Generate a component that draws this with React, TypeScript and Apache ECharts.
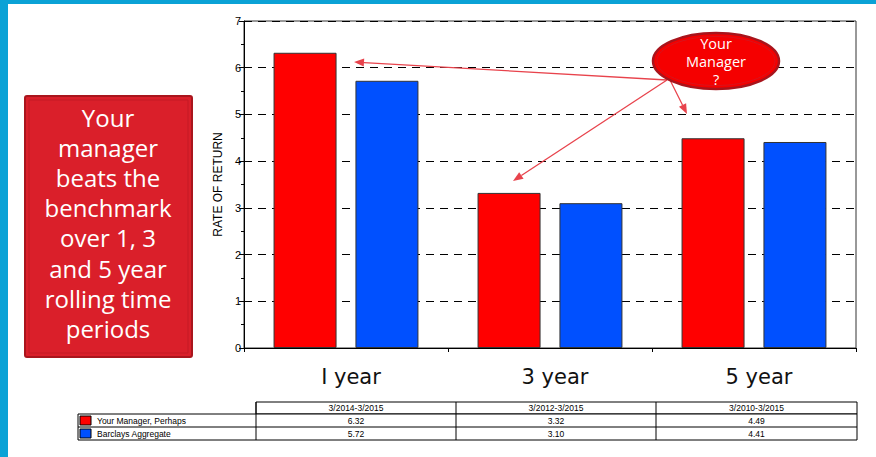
import React, { useEffect, useRef } from "react";
import * as echarts from "echarts";

const categories = ["I year", "3 year", "5 year"];
const periods = ["3/2014-3/2015", "3/2012-3/2015", "3/2010-3/2015"];
const seriesNames = ["Your Manager, Perhaps", "Barclays Aggregate"];
const managerValues = [6.32, 3.32, 4.49];
const benchmarkValues = [5.72, 3.1, 4.41];
const seriesColors = ["#FF0000", "#0050FF"];
const boxLines = [
  "Your",
  "manager",
  "beats the",
  "benchmark",
  "over 1, 3",
  "and 5 year",
  "rolling time",
  "periods",
];
const calloutLines = ["Your", "Manager", "?"];

function arrow(x1: number, y1: number, x2: number, y2: number, color: string) {
  const dx = x2 - x1;
  const dy = y2 - y1;
  const len = Math.sqrt(dx * dx + dy * dy);
  const ux = dx / len;
  const uy = dy / len;
  const hl = 10;
  const hw = 4;
  const bx = x2 - ux * hl;
  const by = y2 - uy * hl;
  return [
    {
      type: "line",
      z: 20,
      shape: { x1, y1, x2: bx, y2: by },
      style: { stroke: color, lineWidth: 1.3 },
    },
    {
      type: "polygon",
      z: 20,
      shape: {
        points: [
          [x2, y2],
          [bx - uy * hw, by + ux * hw],
          [bx + uy * hw, by - ux * hw],
        ],
      },
      style: { fill: color },
    },
  ];
}

export default function App() {
  const ref = useRef<HTMLDivElement>(null);
  useEffect(() => {
    document.body.style.margin = "0";
    const chart = echarts.init(ref.current!, null, { renderer: "svg" });
    const tableFont = '8.5px "Liberation Sans Narrow", "Liberation Sans", sans-serif';
    const colX = [78, 256, 456, 656, 857];
    const rowY = [402, 414, 427, 440];
    const table: any[] = [];
    table.push({
      type: "rect",
      shape: { x: colX[1], y: rowY[0], width: colX[4] - colX[1], height: rowY[1] - rowY[0] },
      style: { fill: "#fff", stroke: "#000", lineWidth: 1 },
    });
    table.push({
      type: "rect",
      shape: { x: colX[0], y: rowY[1], width: colX[4] - colX[0], height: rowY[3] - rowY[1] },
      style: { fill: "#fff", stroke: "#000", lineWidth: 1 },
    });
    table.push({
      type: "line",
      shape: { x1: colX[0], y1: rowY[2], x2: colX[4], y2: rowY[2] },
      style: { stroke: "#000", lineWidth: 1 },
    });
    for (let c = 1; c < 4; c++) {
      table.push({
        type: "line",
        shape: { x1: colX[c], y1: rowY[0], x2: colX[c], y2: rowY[3] },
        style: { stroke: "#000", lineWidth: 1 },
      });
    }
    periods.forEach((p, i) => {
      table.push({
        type: "text",
        x: (colX[i + 1] + colX[i + 2]) / 2,
        y: (rowY[0] + rowY[1]) / 2,
        style: { text: p, font: tableFont, fill: "#000", textAlign: "center", textVerticalAlign: "middle" },
      });
    });
    [managerValues, benchmarkValues].forEach((vals, r) => {
      const yc = (rowY[r + 1] + rowY[r + 2]) / 2;
      table.push({
        type: "rect",
        shape: { x: 80, y: rowY[r + 1] + 2, width: 11, height: 9 },
        style: { fill: seriesColors[r], stroke: "#000", lineWidth: 1 },
      });
      table.push({
        type: "text",
        x: 97,
        y: yc,
        style: { text: seriesNames[r], font: tableFont, fill: "#000", textAlign: "left", textVerticalAlign: "middle" },
      });
      vals.forEach((v, i) => {
        table.push({
          type: "text",
          x: (colX[i + 1] + colX[i + 2]) / 2,
          y: yc,
          style: { text: v.toFixed(2), font: tableFont, fill: "#000", textAlign: "center", textVerticalAlign: "middle" },
        });
      });
    });

    const boxFont = '24px "Open Sans", sans-serif';
    const box: any[] = [
      {
        type: "rect",
        z: 5,
        shape: { x: 25, y: 96, width: 167, height: 261, r: 2 },
        style: { fill: "#DA1F2A", stroke: "#A9151D", lineWidth: 2 },
      },
      {
        type: "rect",
        z: 5,
        shape: { x: 29, y: 100, width: 159, height: 253 },
        style: { fill: "none", stroke: "#C41A24", lineWidth: 1 },
      },
      ...boxLines.map((t, i) => ({
        type: "text",
        z: 6,
        x: 108,
        y: 117 + i * 30.2,
        style: { text: t, font: boxFont, fill: "#fff", textAlign: "center", textVerticalAlign: "middle" },
      })),
    ];

    const arrowColor = "#E8434C";
    const callout: any[] = [
      ...arrow(667, 80, 354, 62, arrowColor),
      ...arrow(667, 80, 513, 181, arrowColor),
      ...arrow(670, 80, 687, 114, arrowColor),
      {
        type: "ellipse",
        z: 21,
        shape: { cx: 716, cy: 61, rx: 63, ry: 28 },
        style: { fill: "#F50000", stroke: "#A8141C", lineWidth: 2.5 },
      },
      {
        type: "ellipse",
        z: 21,
        shape: { cx: 716, cy: 61, rx: 59, ry: 24.5 },
        style: { fill: "none", stroke: "#D8131C", lineWidth: 1 },
      },
      {
        type: "text",
        z: 22,
        x: 716,
        y: 61,
        style: {
          text: calloutLines.join("\n"),
          font: '14.5px "Open Sans", sans-serif',
          lineHeight: 18,
          fill: "#fff",
          textAlign: "center",
          textVerticalAlign: "middle",
        },
      },
    ];

    const frame: any[] = [
      { type: "rect", z: 30, shape: { x: 0, y: 0, width: 876, height: 4 }, style: { fill: "#0AA2D6" } },
      { type: "rect", z: 30, shape: { x: 0, y: 0, width: 8, height: 457 }, style: { fill: "#0AA2D6" } },
    ];

    chart.setOption({
      animation: false,
      backgroundColor: "#fff",
      grid: {
        left: 244,
        top: 21,
        width: 612,
        height: 327,
        show: true,
        borderColor: "#333",
        borderWidth: 1,
        backgroundColor: "transparent",
      },
      xAxis: {
        type: "category",
        data: categories,
        axisLine: { lineStyle: { color: "#000", width: 1 } },
        axisTick: { show: true, length: 4, lineStyle: { color: "#000" } },
        axisLabel: {
          fontSize: 21,
          fontFamily: '"DejaVu Sans", sans-serif',
          color: "#111",
          margin: 18,
          padding: [0, 0, 0, 10],
        },
      },
      yAxis: {
        type: "value",
        min: 0,
        max: 7,
        interval: 1,
        name: "RATE OF RETURN",
        nameLocation: "middle",
        nameGap: 16,
        nameTextStyle: { fontSize: 12, fontFamily: '"Liberation Sans", Arial, sans-serif', color: "#000" },
        axisLine: { show: true, lineStyle: { color: "#000", width: 1 } },
        axisTick: { show: true, length: 5, lineStyle: { color: "#000" } },
        minorTick: { show: true, splitNumber: 2, length: 3, lineStyle: { color: "#000" } },
        axisLabel: { fontSize: 11, fontFamily: '"Liberation Sans", Arial, sans-serif', color: "#000", margin: 3 },
        splitLine: { show: true, lineStyle: { color: "#000", type: [8, 6], width: 1 } },
      },
      series: [
        {
          name: seriesNames[0],
          type: "bar",
          data: managerValues,
          barWidth: 63,
          barGap: "30%",
          itemStyle: { color: seriesColors[0], borderColor: "#333", borderWidth: 1 },
        },
        {
          name: seriesNames[1],
          type: "bar",
          data: benchmarkValues,
          barWidth: 63,
          itemStyle: { color: seriesColors[1], borderColor: "#333", borderWidth: 1 },
        },
      ],
      graphic: [...table, ...box, ...callout, ...frame],
    });
    return () => chart.dispose();
  }, []);
  return <div ref={ref} style={{ width: 876, height: 457 }} />;
}
